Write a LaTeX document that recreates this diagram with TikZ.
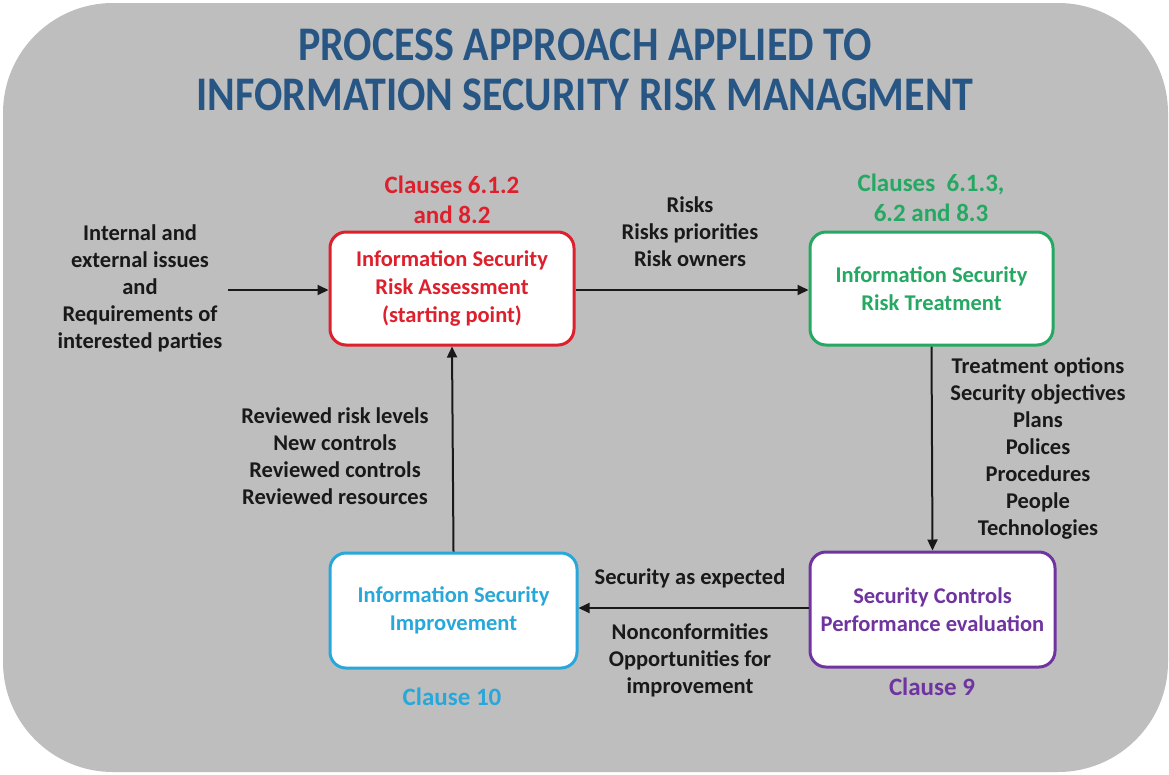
\documentclass[tikz,border=0pt]{standalone}
\usepackage{fontspec}
\setmainfont{Carlito}
\usetikzlibrary{arrows.meta}
\definecolor{bggray}{RGB}{190,190,190}
\definecolor{titleblue}{RGB}{40,86,132}
\definecolor{cred}{RGB}{222,32,44}
\definecolor{cgreen}{RGB}{36,168,98}
\definecolor{cblue}{RGB}{40,168,218}
\definecolor{cpurple}{RGB}{112,52,160}
\definecolor{txt}{RGB}{25,25,25}
\tikzset{
  procbox/.style={draw, line width=3pt, rounded corners=16pt, fill=white,
    inner sep=0pt, align=center, font=\bfseries\fontsize{22.5}{28}\selectfont},
  lbl/.style={align=center, inner sep=0pt, text=txt, font=\bfseries\fontsize{22.5}{27}\selectfont},
  clause/.style={align=center, inner sep=0pt, font=\bfseries\fontsize{25}{30}\selectfont},
  flow/.style={line width=2pt, draw=txt, -{Triangle[length=11pt,width=10pt]}}
}
\begin{document}
\begin{tikzpicture}[x=1pt,y=-1pt]
\useasboundingbox (0,0) rectangle (1169,774);
\fill[white] (0,0) rectangle (1169,774);
\fill[bggray, rounded corners=110pt] (3,3) rectangle (1168,772);

\node[align=center, inner sep=0pt, text=titleblue, yscale=1.15, font=\bfseries\fontsize{42}{44}\selectfont] (title) at (585,70)
  {PROCESS APPROACH APPLIED TO\\INFORMATION SECURITY RISK MANAGMENT};

\node[procbox, draw=cred, text=cred, minimum width=244pt, minimum height=113pt] (assess) at (452,288.5)
  {Information Security\\Risk Assessment\\(starting point)};
\node[procbox, draw=cgreen, text=cgreen, minimum width=243pt, minimum height=113pt] (treat) at (931.5,288.5)
  {Information Security\\Risk Treatment};
\node[procbox, draw=cblue, text=cblue, minimum width=247pt, minimum height=115pt] (improve) at (453.5,610.5)
  {Information Security\\Improvement};
\node[procbox, draw=cpurple, text=cpurple, minimum width=245pt, minimum height=115pt] (perf) at (932.5,609.5)
  {Security Controls\\Performance evaluation};

\node[clause, text=cred] (c1) at (452,200) {Clauses 6.1.2\\and 8.2};
\node[clause, text=cgreen] (c2) at (931,198) {Clauses~~6.1.3,\\6.2 and 8.3};
\node[clause, text=cpurple] (c3) at (932,687) {Clause 9};
\node[clause, text=cblue] (c4) at (452,697) {Clause 10};

\node[lbl] (inputs) at (140,288) {Internal and\\external issues\\and\\Requirements of\\interested parties};
\coordinate (instart) at (228,290);
\node[lbl] (risks) at (690,232) {Risks\\Risks priorities\\Risk owners};
\node[lbl] (treatout) at (1038,448) {Treatment options\\Security objectives\\Plans\\Polices\\Procedures\\People\\Technologies};
\node[lbl] (expected) at (690,578) {Security as expected};
\node[lbl] (noncon) at (690,660) {Nonconformities\\Opportunities for\\improvement};
\node[lbl] (reviewed) at (335,456) {Reviewed risk levels\\New controls\\Reviewed controls\\Reviewed resources};

\draw[flow] (instart) -- (assess.west |- instart);
\draw[flow] (assess.east |- instart) -- (treat.west |- instart);
\draw[flow] (treat.south) -- (perf.north);
\draw[flow] (perf.west |- 0,608) -- (improve.east |- 0,608);
\draw[flow] (improve.north) -- (assess.south);
\end{tikzpicture}
\end{document}
